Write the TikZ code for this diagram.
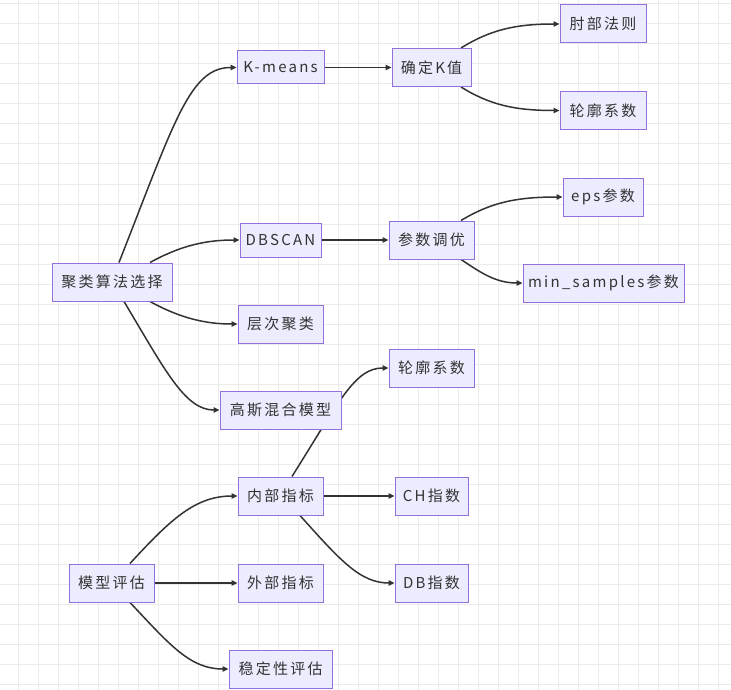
\documentclass[tikz,border=0pt]{standalone}
\usepackage{fontspec}
\setmainfont{Noto Sans CJK SC}[LetterSpace=15]
\usetikzlibrary{arrows.meta}
\definecolor{nodefill}{HTML}{ECECFF}
\definecolor{nodeline}{HTML}{9370DB}
\definecolor{edgecol}{HTML}{333333}
\definecolor{gridcol}{HTML}{EBEBEB}
\pgfdeclarelayer{gridlayer}
\pgfdeclarelayer{edgelayer}
\pgfsetlayers{gridlayer,edgelayer,main}
\tikzset{
  box/.style={rectangle, draw=nodeline, fill=nodefill, line width=1pt, inner sep=2pt,
    minimum height=38pt, text=edgecol, font=\fontsize{15pt}{17pt}\selectfont},
  conn/.style={draw=edgecol, line width=1.5pt, -{Triangle[length=6pt,width=5.5pt]}},
}
\begin{document}
\begin{tikzpicture}[x=1pt,y=-1pt]
\useasboundingbox (0,0) rectangle (731,690);
\begin{pgfonlayer}{gridlayer}
\fill[white] (0,0) rectangle (731,690);
\foreach \gx in {18,38,...,718} \draw[gridcol, line width=1pt] (\gx,0) -- (\gx,690);
\foreach \gy in {4,24,...,684} \draw[gridcol, line width=1pt] (0,\gy) -- (731,\gy);
\end{pgfonlayer}

\node[box, minimum width=120pt] (sel) at (112,282) {聚类算法选择};
\node[box, minimum width=87pt, minimum height=33pt] (km) at (280.5,67.5) {K-means};
\node[box, minimum width=79pt] (kval) at (431.5,67.5) {确定K值};
\node[box, minimum width=86pt] (elbow) at (603,24) {肘部法则};
\node[box, minimum width=86pt] (silA) at (603,110.5) {轮廓系数};
\node[box, minimum width=81pt, minimum height=34pt] (dbscan) at (280.5,240) {DBSCAN};
\node[box, minimum width=85pt] (tune) at (431.5,240) {参数调优};
\node[box, minimum width=80pt] (eps) at (603,197) {eps参数};
\node[box, minimum width=161pt] (mins) at (603.5,283) {min\_samples参数};
\node[box, minimum width=85pt] (hier) at (280.5,324) {层次聚类};
\node[box, minimum width=121pt] (gmm) at (280.5,410) {高斯混合模型};
\node[box, minimum width=85pt] (silB) at (431.5,368) {轮廓系数};
\node[box, minimum width=85pt] (inner) at (280.5,496) {内部指标};
\node[box, minimum width=73pt] (ch) at (431.5,496) {CH指数};
\node[box, minimum width=85pt] (eval) at (111.5,583) {模型评估};
\node[box, minimum width=85pt] (outer) at (280.5,583) {外部指标};
\node[box, minimum width=73pt] (db) at (431.5,583) {DB指数};
\node[box, minimum width=103pt] (stab) at (280.5,669) {稳定性评估};

\begin{pgfonlayer}{edgelayer}
\draw[conn] ([xshift=7pt]sel.north) .. controls (175,120) and (190,67.5) .. (km.west);
\draw[conn] ([xshift=38pt]sel.north) .. controls (180,246) and (205,240) .. (dbscan.west);
\draw[conn] ([xshift=38pt]sel.south) .. controls (180,318) and (205,324) .. (hier.west);
\draw[conn] ([xshift=12pt]sel.south) .. controls (165,370) and (185,410) .. (gmm.west);
\draw[conn] (km.east) -- (kval.west);
\draw[conn] ([xshift=29.5pt]kval.north) .. controls (490,30) and (515,24) .. (elbow.west);
\draw[conn] ([xshift=29.5pt]kval.south) .. controls (490,105) and (515,110.5) .. (silA.west);
\draw[conn] (dbscan.east) -- (tune.west);
\draw[conn] ([xshift=29.5pt]tune.north) .. controls (490,203) and (515,197) .. (eps.west);
\draw[conn] ([xshift=29.5pt]tune.south) .. controls (480,272) and (495,283) .. (mins.west);
\draw[conn] ([xshift=18.5pt]eval.north) .. controls (170,520) and (195,496) .. (inner.west);
\draw[conn] (eval.east) -- (outer.west);
\draw[conn] ([xshift=18.5pt]eval.south) .. controls (170,645) and (190,669) .. (stab.west);
\draw[conn] (inner.east) -- (ch.west);
\draw[conn] ([xshift=19.5pt]inner.south) .. controls (340,560) and (360,583) .. (db.west);
\draw[conn] ([xshift=11.5pt]inner.north) .. controls (340,400) and (355,368) .. (silB.west);
\end{pgfonlayer}
\end{tikzpicture}
\end{document}
